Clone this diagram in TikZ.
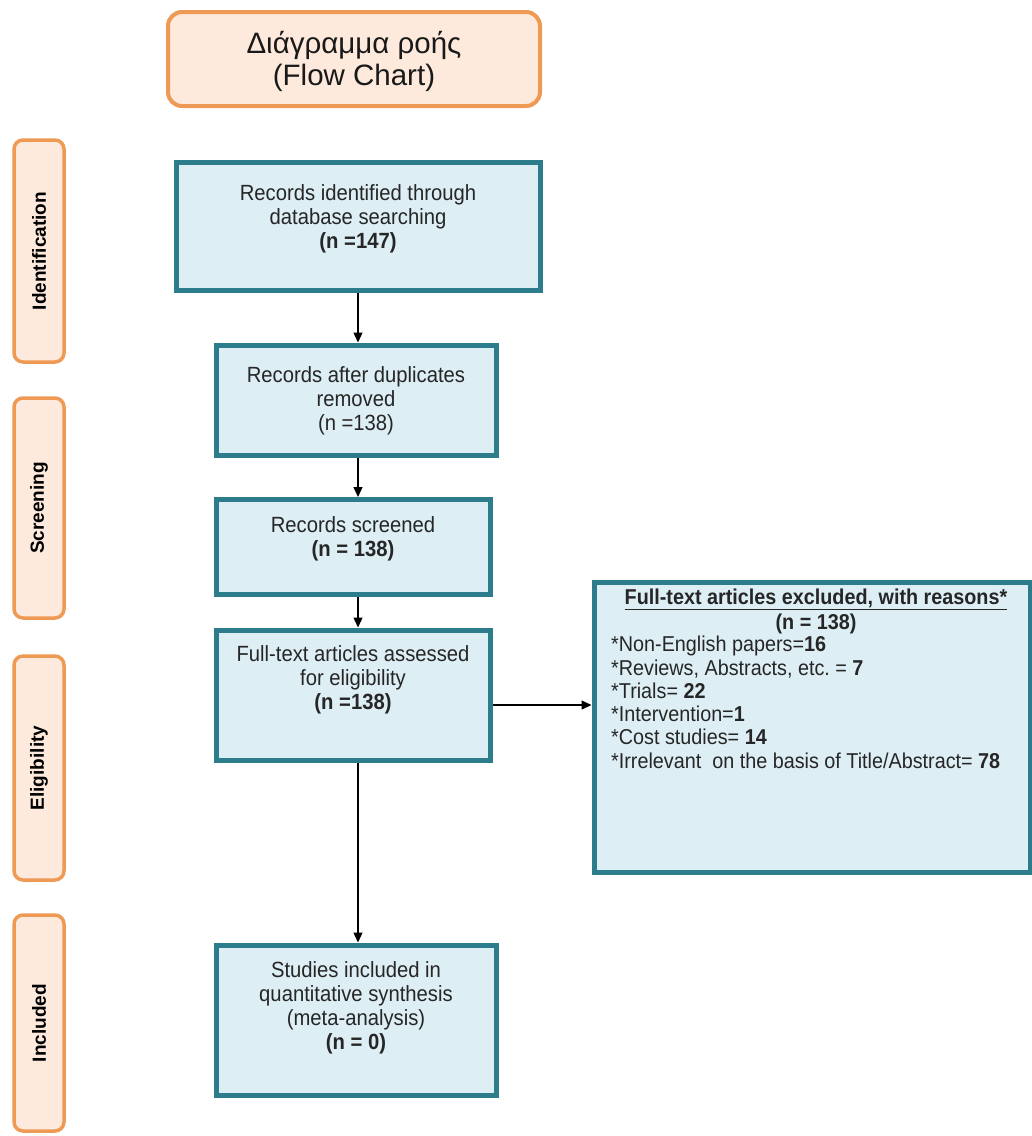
\documentclass[tikz,border=0pt]{standalone}
\usepackage{fontspec}
\setmainfont{Liberation Sans}
\newfontfamily\narrowf{Liberation Sans}[FakeStretch=0.92]
\usetikzlibrary{arrows.meta}
\definecolor{tealb}{HTML}{2D7C8B}
\definecolor{bluef}{HTML}{DDEEF5}
\definecolor{orab}{HTML}{EE9A55}
\definecolor{oraf}{HTML}{FDEADC}
\tikzset{
  bluebox/.style={draw=tealb, line width=5pt, fill=bluef, inner sep=0pt},
  sidebox/.style={draw=orab, line width=3.5pt, fill=oraf, rounded corners=9pt, inner sep=0pt, minimum width=50pt},
  titlebox/.style={draw=orab, line width=4pt, fill=oraf, rounded corners=14pt, inner sep=0pt},
  txt/.style={align=center, font=\narrowf\fontsize{22}{24}\selectfont, text=black!85, inner sep=0pt},
  sidetxt/.style={rotate=90, font=\fontsize{19}{22}\selectfont\bfseries, inner sep=0pt},
  conn/.style={line width=1.3pt, -{Triangle[width=9pt,length=10pt]}}
}
\begin{document}
\begin{tikzpicture}[x=1pt,y=-1pt]
\useasboundingbox (0,0) rectangle (1032,1136);
% title
\node[titlebox, minimum width=372pt, minimum height=94pt] (title) at (354,59) {};
\node[align=center, font=\fontsize{29.5}{32}\selectfont, text=black!90, inner sep=0pt] (titletxt) at (354,61) {Διάγραμμα ροής\\(Flow Chart)};
% side labels
\node[sidebox, minimum height=222pt] (s1) at (39,251) {};
\node[sidetxt] (s1t) at (39,251) {Identification};
\node[sidebox, minimum height=220pt] (s2) at (39,508) {};
\node[sidetxt] (s2t) at (39,508) {Screening};
\node[sidebox, minimum height=224pt] (s3) at (39,768) {};
\node[sidetxt] (s3t) at (39,768) {Eligibility};
\node[sidebox, minimum height=216pt] (s4) at (39,1023) {};
\node[sidetxt] (s4t) at (39,1023) {Included};
% boxes
\node[bluebox, minimum width=364pt, minimum height=128pt] (b1) at (358,226) {};
\node[txt] (t1) at (358,219) {Records identified through\\database searching\\\textbf{(n =147)}};
\node[bluebox, minimum width=280pt, minimum height=110pt] (b2) at (356,400) {};
\node[txt] (t2) at (356,401) {Records after duplicates\\removed\\(n =138)};
\node[bluebox, minimum width=274pt, minimum height=95pt] (b3) at (353,547) {};
\node[txt] (t3) at (353,539) {Records screened\\\textbf{(n = 138)}};
\node[bluebox, minimum width=274pt, minimum height=130pt] (b4) at (353,695) {};
\node[txt] (t4) at (353,680) {Full-text articles assessed\\for eligibility\\\textbf{(n =138)}};
\node[bluebox, minimum width=436pt, minimum height=290pt] (b5) at (812,727) {};
\node[txt, font=\narrowf\fontsize{21.5}{25}\selectfont] (t5a) at (816,611) {\textbf{\underline{Full-text articles excluded, with reasons*}}\\\textbf{(n = 138)}};
\node[txt, align=left, anchor=north west, font=\narrowf\fontsize{21.5}{23.3}\selectfont] (t5b) at (611,636) {*Non-English papers=\textbf{16}\\*Reviews, Abstracts, etc.\ = \textbf{7}\\*Trials= \textbf{22}\\*Intervention=\textbf{1}\\*Cost studies= \textbf{14}\\*Irrelevant \ on the basis of Title/Abstract= \textbf{78}};
\node[bluebox, minimum width=280pt, minimum height=150pt] (b6) at (356,1020) {};
\node[txt] (t6) at (356,1008) {Studies included in\\quantitative synthesis\\(meta-analysis)\\\textbf{(n = 0)}};
% connectors
\draw[conn] (b1.south -| 358,0) -- (b2.north -| 358,0);
\draw[conn] (b2.south -| 358,0) -- (b3.north -| 358,0);
\draw[conn] (b3.south -| 358,0) -- (b4.north -| 358,0);
\draw[conn] (b4.south -| 358,0) -- (b6.north -| 358,0);
\draw[conn] (b4.east |- 0,705) -- (b5.west |- 0,705);
\end{tikzpicture}
\end{document}
